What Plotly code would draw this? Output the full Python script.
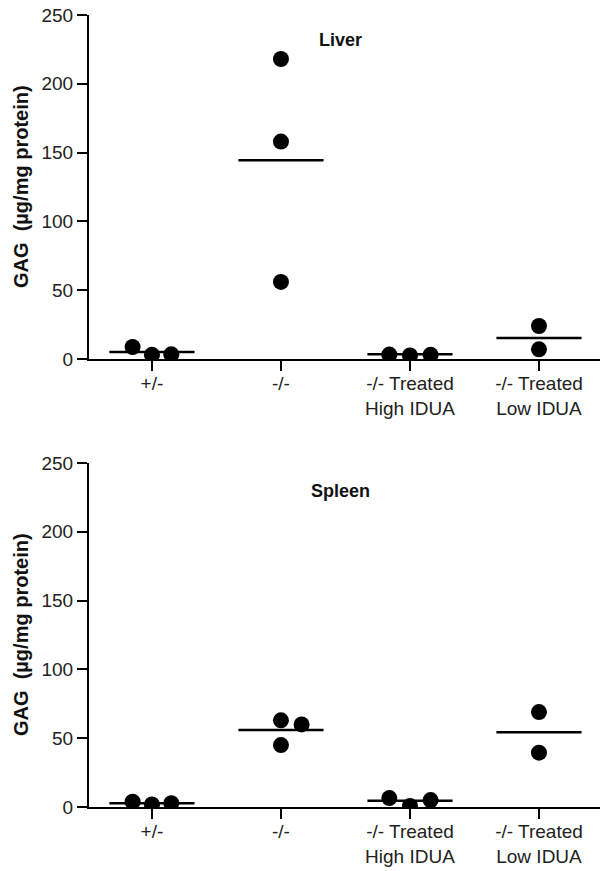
import plotly.graph_objects as go

categories = ["+/-", "-/-", "-/- Treated<br>High IDUA", "-/- Treated<br>Low IDUA"]
y_ticks = [0, 50, 100, 150, 200, 250]

# Liver values (ug/mg protein) per group
liver_pm = [8.7, 3.0, 3.4]
liver_mm = [218, 158, 56]
liver_high = [3.2, 2.6, 3.0]
liver_low = [24, 7]
liver_means = [5.0, 144.5, 3.4, 15.3]

# Spleen values
spleen_pm = [3.8, 1.8, 2.8]
spleen_mm = [63, 60, 45]
spleen_high = [6.5, 0.8, 5.0]
spleen_low = [69, 39.5]
spleen_means = [2.8, 56, 4.6, 54.3]

# horizontal scatter offsets (category units) for each group
off_pm = [-0.15, 0.0, 0.15]
off_mm_liver = [0.0, 0.0, 0.0]
off_mm_spleen = [0.0, 0.16, 0.0]
off_high = [-0.16, 0.0, 0.16]
off_low = [0.0, 0.0]

fig = go.Figure()

def add_panel(groups, offsets, means, yaxis, xaxis):
    xs, ys = [], []
    for i, (vals, offs) in enumerate(zip(groups, offsets)):
        for v, o in zip(vals, offs):
            xs.append(i + o)
            ys.append(v)
    lx, ly = [], []
    for i, m in enumerate(means):
        lx += [i - 0.33, i + 0.33, None]
        ly += [m, m, None]
    fig.add_trace(go.Scatter(x=lx, y=ly, mode="lines", line=dict(color="black", width=2.5),
                             xaxis=xaxis, yaxis=yaxis, showlegend=False, hoverinfo="skip"))
    fig.add_trace(go.Scatter(x=xs, y=ys, mode="markers", marker=dict(color="black", size=16),
                             xaxis=xaxis, yaxis=yaxis, showlegend=False))

add_panel([liver_pm, liver_mm, liver_high, liver_low],
          [off_pm, off_mm_liver, off_high, off_low], liver_means, "y", "x")
add_panel([spleen_pm, spleen_mm, spleen_high, spleen_low],
          [off_pm, off_mm_spleen, off_high, off_low], spleen_means, "y2", "x2")

H = 871
top_dom = [1 - 359 / H, 1 - 15 / H]
bot_dom = [1 - 807 / H, 1 - 463 / H]

FONT = "Liberation Sans, Arial"
xcommon = dict(range=[-0.488, 3.473], tickvals=list(range(len(categories))), ticktext=categories,
               showline=True, linecolor="black", linewidth=2, ticks="outside", ticklen=10,
               tickwidth=2, tickcolor="black", showgrid=False, zeroline=False, automargin=False,
               ticklabelstandoff=-4,
               tickfont=dict(family=FONT, size=19, color="#222"))
ycommon = dict(range=[0, 250], tickvals=y_ticks, showline=True, linecolor="black", linewidth=2,
               ticks="outside", ticklen=10, tickwidth=2, tickcolor="black", showgrid=False,
               zeroline=False, automargin=False,
               tickfont=dict(family=FONT, size=19, color="#222"))

fig.update_layout(
    width=600, height=871, margin=dict(l=89, r=0, t=0, b=0, autoexpand=False),
    paper_bgcolor="white", plot_bgcolor="white",
    xaxis=dict(domain=[0, 1], anchor="y", **xcommon),
    yaxis=dict(domain=top_dom, anchor="x", **ycommon),
    xaxis2=dict(domain=[0, 1], anchor="y2", **xcommon),
    yaxis2=dict(domain=bot_dom, anchor="x2", **ycommon),
)

for ref_y, title, yc, ym in [("y", "Liver", 232, sum(top_dom) / 2), ("y2", "Spleen", 230, sum(bot_dom) / 2)]:
    fig.add_annotation(x=1.46, y=yc, xref="x" if ref_y == "y" else "x2", yref=ref_y, text="<b>%s</b>" % title,
                       showarrow=False, font=dict(family=FONT, size=18, color="#111"))
    fig.add_annotation(x=-68 / 511, y=ym, xref="paper", yref="paper", text="<b>GAG  (µg/mg protein)</b>",
                       textangle=-90, showarrow=False, xanchor="center", yanchor="middle",
                       font=dict(family=FONT, size=20, color="#111"))

fig.write_html("out.html")
